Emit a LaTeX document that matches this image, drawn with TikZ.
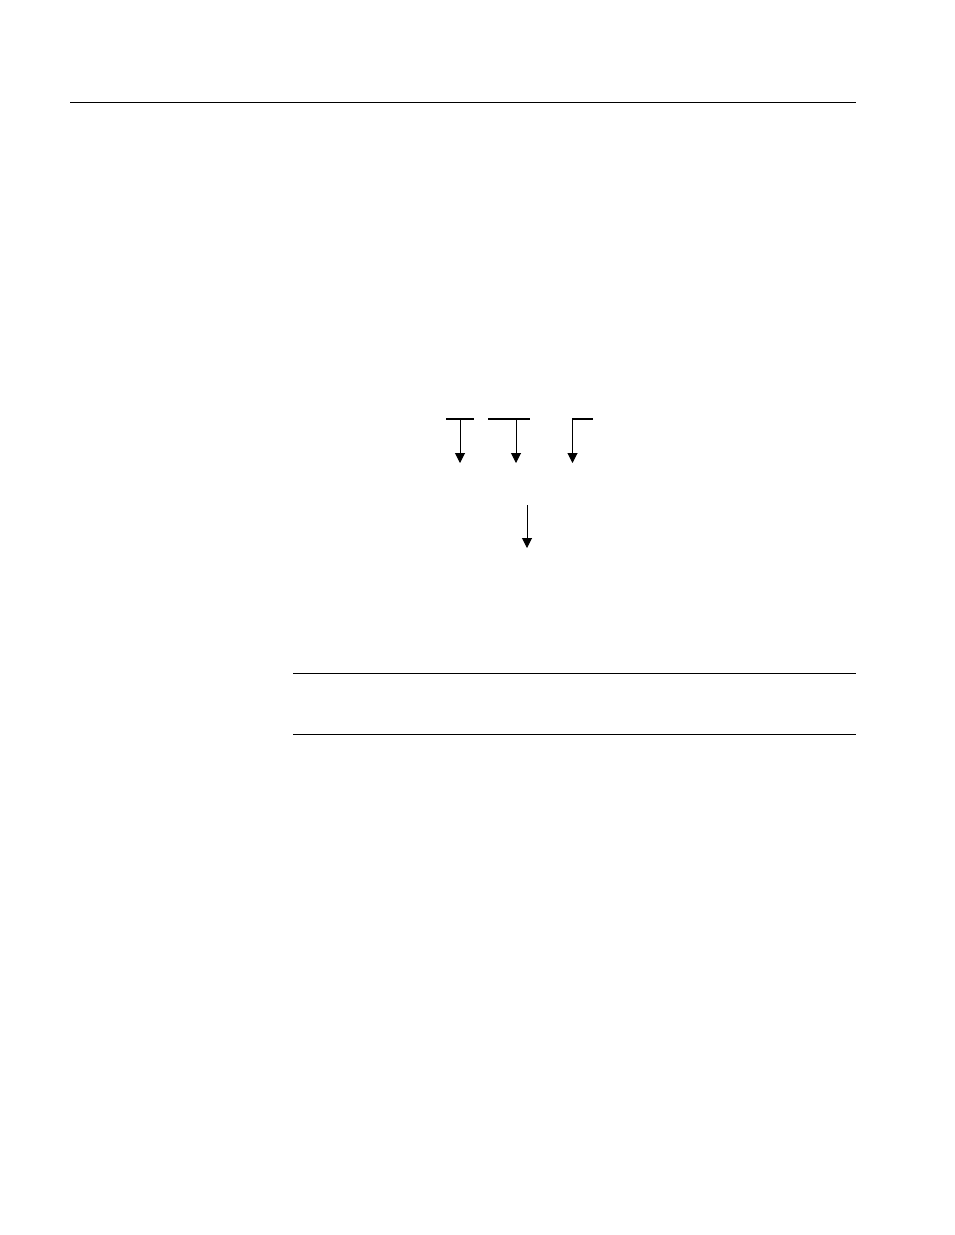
\documentclass[tikz,border=0pt]{standalone}
\usetikzlibrary{arrows.meta}
\begin{document}
\begin{tikzpicture}[x=1pt,y=-1pt,
  rule/.style={line width=1pt},
  bar/.style={line width=1.6pt},
  arr/.style={line width=1pt,-{Triangle[length=10pt,width=10pt]}}]
\useasboundingbox (0,0) rectangle (954,1235);
% rules
\coordinate (t1) at (70,102); \coordinate (t2) at (856,102);
\draw[rule] (t1) -- (t2);
\coordinate (m1) at (293,673.5); \coordinate (m2) at (856,673.5);
\draw[rule] (m1) -- (m2);
\coordinate (b1) at (293,734.5); \coordinate (b2) at (856,734.5);
\draw[rule] (b1) -- (b2);
% bars
\coordinate (a1) at (446,419); \coordinate (a2) at (474,419);
\coordinate (c1) at (488,419); \coordinate (c2) at (530,419);
\coordinate (d1) at (572,419); \coordinate (d2) at (593,419);
\draw[bar] (a1) -- (a2);
\draw[bar] (c1) -- (c2);
\draw[bar] (d1) -- (d2);
% arrows
\coordinate (s1) at (460,419); \coordinate (e1) at (460,463);
\coordinate (s2) at (516,419); \coordinate (e2) at (516,463);
\coordinate (s3) at (572.5,419); \coordinate (e3) at (572.5,463);
\coordinate (s4) at (527,505); \coordinate (e4) at (527,548);
\draw[arr] (s1) -- (e1);
\draw[arr] (s2) -- (e2);
\draw[arr] (s3) -- (e3);
\draw[arr] (s4) -- (e4);
\end{tikzpicture}
\end{document}
